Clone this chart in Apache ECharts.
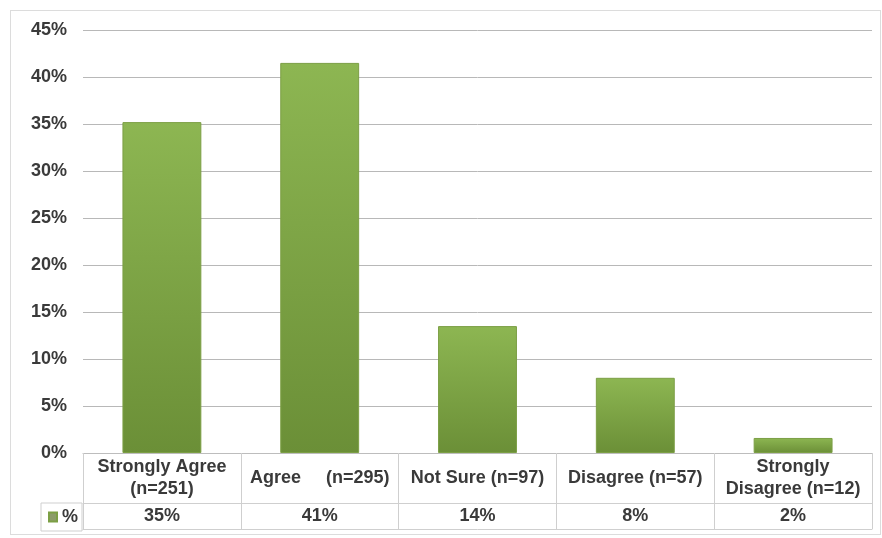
<!DOCTYPE html>
<html>
<head>
<meta charset="utf-8">
<script src="https://cdn.jsdelivr.net/npm/echarts@6/dist/echarts.min.js"></script>
<style>
html,body{margin:0;padding:0;background:#fff;}
#frame{position:absolute;left:10px;top:10px;width:869px;height:523px;border:1px solid #dcdcdc;}
#chart{position:absolute;left:0;top:0;width:882px;height:538px;}
</style>
</head>
<body>
<div id="frame"></div>
<div id="chart"></div>
<script>
const categories = ['Strongly Agree\n(n=251)', 'Agree     (n=295)', 'Not Sure (n=97)', 'Disagree (n=57)', 'Strongly\nDisagree (n=12)'];
const values = [35.2, 41.5, 13.5, 8.0, 1.6];
const tableLabels = ['35%', '41%', '14%', '8%', '2%'];
const yTicks = [0, 45, 5];
const seriesName = '%';

const FONT = 'Liberation Sans, Arial, sans-serif';
const TXT = '#3a3a3a';
const TABLE = '#cfcfcf';
const FS = 18;

const chart = echarts.init(document.getElementById('chart'), null, {renderer: 'canvas'});
chart.setOption({
  animation: false,
  backgroundColor: 'transparent',
  textStyle: {fontFamily: FONT},
  grid: {left: 83, right: 10, top: 30, bottom: 85, containLabel: false},
  legend: {
    show: true,
    left: 41, top: 503,
    padding: [5, 4, 5, 7],
    borderColor: TABLE, borderWidth: 1,
    icon: 'rect', itemWidth: 8, itemHeight: 9,
    itemGap: 0,
    selectedMode: false,
    data: [{name: seriesName, itemStyle: {color: '#8c9c6a'}}],
    textStyle: {color: TXT, fontSize: FS, fontWeight: 'bold', fontFamily: FONT, lineHeight: 16}
  },
  xAxis: [
    {
      type: 'category', data: categories, gridIndex: 0, position: 'bottom',
      axisLine: {show: true, lineStyle: {color: '#bdbdbd', width: 1}},
      axisTick: {show: true, length: 76, interval: 0, lineStyle: {color: TABLE}},
      axisLabel: {interval: 0, margin: 25, verticalAlign: 'middle', lineHeight: 22,
        color: TXT, fontSize: FS, fontWeight: 'bold', fontFamily: FONT}
    },
    {
      type: 'category', data: tableLabels, gridIndex: 0, position: 'bottom', offset: 50,
      axisLine: {show: true, lineStyle: {color: TABLE, width: 1}},
      axisTick: {show: false},
      axisLabel: {interval: 0, margin: 13, verticalAlign: 'middle',
        color: TXT, fontSize: FS, fontWeight: 'bold', fontFamily: FONT}
    },
    {
      type: 'category', data: tableLabels, gridIndex: 0, position: 'bottom', offset: 76,
      axisLine: {show: true, lineStyle: {color: TABLE, width: 1}},
      axisTick: {show: false},
      axisLabel: {show: false}
    }
  ],
  yAxis: {
    type: 'value', min: yTicks[0], max: yTicks[1], interval: yTicks[2],
    axisLine: {show: false}, axisTick: {show: false},
    axisLabel: {formatter: '{value}%', margin: 16, color: TXT, fontSize: FS, fontWeight: 'bold', fontFamily: FONT},
    splitLine: {show: true, lineStyle: {color: '#b8b8b8', width: 1}}
  },
  series: [{
    name: seriesName, type: 'bar', xAxisIndex: 0, data: values, barWidth: '50%',
    itemStyle: {
      color: new echarts.graphic.LinearGradient(0, 0, 0, 1, [
        {offset: 0, color: '#8db652'},
        {offset: 1, color: '#6b8f37'}
      ]),
      borderColor: '#7c9f45', borderWidth: 1
    }
  }]
});
</script>
</body>
</html>
